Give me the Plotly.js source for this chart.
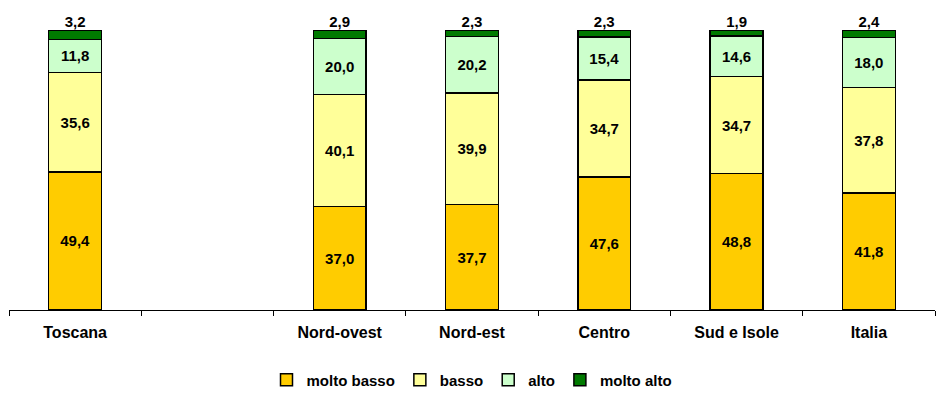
<!DOCTYPE html>
<html><head><meta charset="utf-8">
<script src="https://cdn.plot.ly/plotly-3.0.1.min.js"></script>
<style>html,body{margin:0;padding:0;background:#fff}#chart{width:944px;height:394px}</style>
</head><body><div id="chart"></div>
<script>
const categories = ["Toscana", " ", "Nord-ovest", "Nord-est", "Centro", "Sud e Isole", "Italia"];
const moltoBasso = [49.4, null, 37.0, 37.7, 47.6, 48.8, 41.8];
const basso      = [35.6, null, 40.1, 39.9, 34.7, 34.7, 37.8];
const alto       = [11.8, null, 20.0, 20.2, 15.4, 14.6, 18.0];
const moltoAlto  = [3.2,  null, 2.9,  2.3,  2.3,  1.9,  2.4];
const seriesNames = ["molto basso", "basso", "alto", "molto alto"];
const colors = ["#FFCC00", "#FFFF99", "#CCFFCC", "#007A00"];

const fmt = v => v == null ? "" : v.toFixed(1).replace(".", ",");
const FONT = "Liberation Sans, Arial, sans-serif";
const all = [moltoBasso, basso, alto, moltoAlto];
const traces = all.map((vals, i) => ({
  type: "bar",
  name: "<b>" + seriesNames[i] + "</b>",
  x: categories,
  y: vals,
  text: i === 3 ? vals.map(() => "") : vals.map(fmt),
  texttemplate: i === 3 ? "" : "<b>%{text}</b>",
  textposition: i === 3 ? "none" : "inside",
  insidetextanchor: "middle",
  constraintext: "none",
  textfont: {family: FONT, size: 15, color: "#000"},
  marker: {color: colors[i], line: {color: "#000", width: 1.5}},
  width: 0.4,
  hoverinfo: "skip"
}));
// labels of the top segment, placed above each stack total
const totals = categories.map((c, k) => all[0][k] == null ? null : all.reduce((s, a) => s + a[k], 0));
traces.push({
  type: "scatter", mode: "text", x: categories, y: totals,
  text: moltoAlto.map(v => v == null ? "" : "<b>" + fmt(v) + "</b>"),
  textposition: "top center", cliponaxis: false, showlegend: false,
  textfont: {family: FONT, size: 15, color: "#000"}, hoverinfo: "skip"
});

const layout = {
  width: 944, height: 394,
  margin: {l: 9, r: 9, t: 30, b: 84, autoexpand: false},
  barmode: "stack",
  paper_bgcolor: "#fff", plot_bgcolor: "#fff",
  font: {family: FONT, size: 15, color: "#000"},
  showlegend: true,
  legend: {orientation: "h", traceorder: "normal", x: 0.5, xanchor: "center", y: -0.25, yanchor: "middle",
           font: {family: FONT, size: 15, color: "#000"}, itemwidth: 30, tracegroupgap: 0},
  xaxis: {type: "category", categoryorder: "array", categoryarray: categories,
          range: [-0.5, 6.5], showline: true, linecolor: "#000", linewidth: 1,
          ticks: "outside", tickson: "boundaries", ticklen: 5, tickcolor: "#000",
          ticklabelstandoff: 8, automargin: false,
          tickfont: {family: FONT, size: 16, color: "#000"},
          tickvals: categories, ticktext: categories.map(c => "<b>" + c + "</b>"),
          showgrid: false, zeroline: false, fixedrange: true},
  yaxis: {range: [0, 100.2], visible: false, showgrid: false, zeroline: false, automargin: false}
};
Plotly.newPlot("chart", traces, layout, {displayModeBar: false, staticPlot: true});
</script></body></html>
